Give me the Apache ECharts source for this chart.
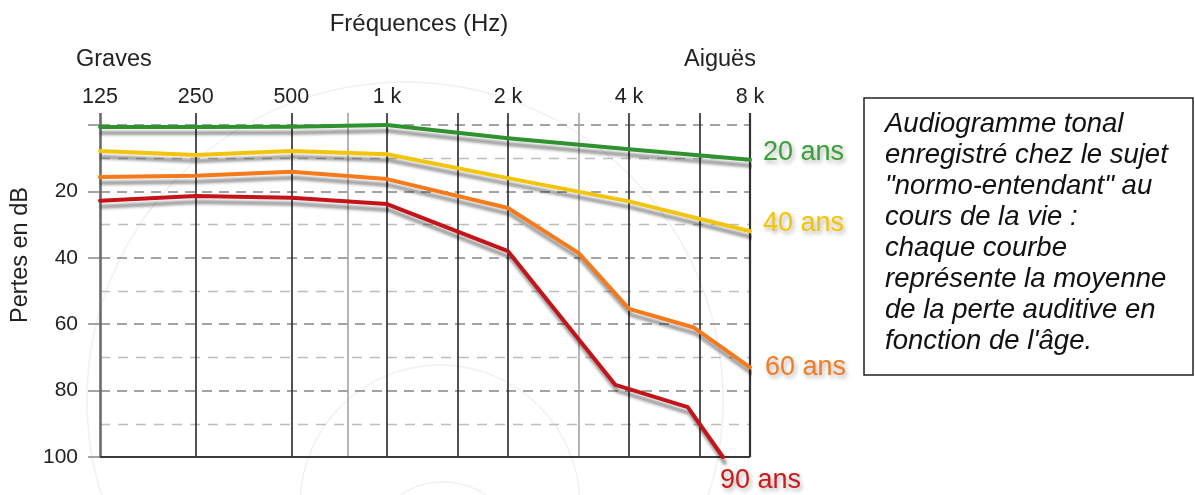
<!DOCTYPE html>
<html>
<head>
<meta charset="utf-8">
<script src="https://cdn.jsdelivr.net/npm/echarts@6/dist/echarts.min.js"></script>
<style>
  html, body { margin: 0; padding: 0; background: #fff; }
  #chart { width: 1195px; height: 495px; }
</style>
</head>
<body>
<div id="chart"></div>
<script>
// ---- data ----
const freqTicks  = [125, 250, 500, 1000, 2000, 4000, 8000];
const freqLabels = ['125', '250', '500', '1 k', '2 k', '4 k', '8 k'];
const gridFreqs  = [125, 250, 500, 750, 1000, 1500, 2000, 3000, 4000, 6000, 8000];
const lightFreqs = [750, 3000];
const dbLabels   = [20, 40, 60, 80, 100];

const ageNames = ['20 ans', '40 ans', '60 ans', '90 ans'];
const freq20 = [125, 250, 500, 1000, 2000, 4000, 8000];
const loss20 = [0.6, 0.6, 0.5, 0, 4, 7.3, 10.5];
const freq40 = [125, 250, 500, 1000, 2000, 4000, 8000];
const loss40 = [7.8, 9, 7.8, 8.8, 16, 23, 32];
const freq60 = [125, 250, 500, 1000, 2000, 3000, 4000, 5800, 8000];
const loss60 = [15.7, 15.3, 14.1, 16.3, 25, 38.6, 55.4, 61, 73];
const freq90 = [125, 250, 500, 1000, 2000, 3700, 5600, 6850];
const loss90 = [22.8, 21.4, 21.9, 23.8, 38, 78.3, 85, 100];

const noteLines = [
  'Audiogramme tonal',
  'enregistré chez le sujet',
  '"normo-entendant" au',
  'cours de la vie :',
  'chaque courbe',
  'représente la moyenne',
  'de la perte auditive en',
  'fonction de l\'âge.'
];

// ---- styles ----
const FONT = '"Liberation Sans", Arial, Helvetica, sans-serif';
const lineColors  = ['#2f922f', '#f2c40c', '#f47a1c', '#c4141a'];
const labelColors = ['#3aa03a', '#f5c400', '#f57a20', '#cc1a1a'];
const labelOffsets = [[5, -7], [5, -8], [7, 0], [-11, 24]];

const toX = f => Math.log2(f / 125);
const splitFreq = 1000;
const tickExt = 3.6; // dB above 0 reached by vertical grid lines

const ages = [
  { f: freq20, v: loss20 },
  { f: freq40, v: loss40 },
  { f: freq60, v: loss60 },
  { f: freq90, v: loss90 }
];

const gridTop = 125, gridH = 332, pxPerDb = gridH / 100;
const gridRects = [
  { left: 100, width: 287 },
  { left: 387, width: 363 }
];
const xRanges = [
  [toX(freqTicks[0]), toX(freqTicks[3])],
  [toX(freqTicks[3]), toX(freqTicks[6])]
];

const series = [];

// helper series (in helper grids 2,3) carrying vertical grid lines and bottom line
[0, 1].forEach(gi => {
  const fs = gridFreqs.filter(f => gi === 0 ? f <= splitFreq : f > splitFreq);
  const vLines = fs.map(f => {
    const light = lightFreqs.includes(f);
    let color = light ? '#a8a8a8' : '#333';
    let width = 1.7;
    if (f === 125) { color = '#6a6a6a'; width = 2.6; }
    if (f === 8000) { width = 2.2; }
    return [
      { coord: [toX(f), -tickExt], lineStyle: { color, width, type: 'solid' } },
      { coord: [toX(f), 100] }
    ];
  });
  vLines.push([
    { coord: [xRanges[gi][0], 100], lineStyle: { color: '#3a3a3a', width: 2.2, type: 'solid' } },
    { coord: [xRanges[gi][1], 100] }
  ]);
  series.push({
    type: 'line',
    xAxisIndex: gi + 2, yAxisIndex: gi + 2,
    data: [],
    showSymbol: false,
    silent: true,
    z: 1,
    markLine: {
      silent: true,
      symbol: ['none', 'none'],
      label: { show: false },
      animation: false,
      data: vLines
    }
  });
});

ages.forEach((a, i) => {
  [0, 1].forEach(gi => {
    const pts = [];
    a.f.forEach((f, k) => {
      if ((gi === 0 && f <= splitFreq) || (gi === 1 && f >= splitFreq)) {
        pts.push([toX(f), a.v[k]]);
      }
    });
    const s = {
      name: ageNames[i],
      type: 'line',
      xAxisIndex: gi, yAxisIndex: gi,
      data: pts,
      showSymbol: false,
      symbol: 'none',
      clip: false,
      z: 5,
      lineStyle: {
        color: lineColors[i], width: 4, cap: 'round', join: 'round',
        shadowColor: 'rgba(0,0,0,0.4)', shadowBlur: 3, shadowOffsetX: 2, shadowOffsetY: 6
      },
      emphasis: { disabled: true }
    };
    if (gi === 1) {
      s.endLabel = {
        show: true,
        formatter: '{a}',
        color: labelColors[i],
        fontFamily: FONT,
        fontSize: 27,
        distance: 8,
        offset: labelOffsets[i],
        textShadowColor: 'rgba(0,0,0,0.3)',
        textShadowBlur: 4,
        textShadowOffsetX: 2,
        textShadowOffsetY: 3
      };
    }
    series.push(s);
  });
});

const yAxisBase = (gi) => ({
  type: 'value',
  gridIndex: gi,
  inverse: true,
  min: 0, max: 100, interval: 20,
  axisLine: { show: false },
  axisTick: gi === 0 ? { show: true, length: 12, lineStyle: { color: '#888', width: 1.5 } } : { show: false },
  axisLabel: gi === 0 ? {
    show: true, margin: 22, fontSize: 21, color: '#222', fontFamily: FONT,
    formatter: v => dbLabels.includes(v) ? String(v) : ''
  } : { show: false },
  splitLine: { show: true, showMaxLine: false, lineStyle: { color: '#858585', width: 1.6, type: [10, 7] } },
  minorTick: { show: false, splitNumber: 2 },
  minorSplitLine: { show: true, lineStyle: { color: '#bdbdbd', width: 1.4, type: [10, 8] } }
});

const hiddenAxis = {
  show: false, axisLine: { show: false }, axisTick: { show: false },
  axisLabel: { show: false }, splitLine: { show: false }
};

const option = {
  animation: false,
  backgroundColor: '#fff',
  grid: [
    { left: gridRects[0].left, top: gridTop, width: gridRects[0].width, height: gridH },
    { left: gridRects[1].left, top: gridTop, width: gridRects[1].width, height: gridH },
    { left: gridRects[0].left, top: gridTop - tickExt * pxPerDb, width: gridRects[0].width, height: gridH + tickExt * pxPerDb },
    { left: gridRects[1].left, top: gridTop - tickExt * pxPerDb, width: gridRects[1].width, height: gridH + tickExt * pxPerDb }
  ],
  xAxis: [0, 1].map(gi => ({
    type: 'value',
    gridIndex: gi,
    position: 'top',
    min: xRanges[gi][0],
    max: xRanges[gi][1],
    interval: 1,
    axisLine: { show: false },
    axisTick: { show: false },
    splitLine: { show: false },
    axisLabel: {
      show: true, margin: 17, fontSize: 21.5, color: '#222', fontFamily: FONT,
      showMinLabel: gi === 0,
      formatter: v => {
        const idx = freqTicks.findIndex(f => Math.abs(toX(f) - v) < 1e-6);
        return idx >= 0 ? freqLabels[idx] : '';
      }
    }
  })).concat([0, 1].map(gi => Object.assign({
    type: 'value', gridIndex: gi + 2, min: xRanges[gi][0], max: xRanges[gi][1]
  }, hiddenAxis))),
  yAxis: [yAxisBase(0), yAxisBase(1)].concat([0, 1].map(gi => Object.assign({
    type: 'value', gridIndex: gi + 2, inverse: true, min: -tickExt, max: 100
  }, hiddenAxis))),
  graphic: [
    { type: 'circle', z: -10, silent: true, shape: { cx: 405, cy: 400, r: 318 }, style: { fill: 'none', stroke: '#f1f1f1', lineWidth: 1.5 } },
    { type: 'circle', z: -10, silent: true, shape: { cx: 440, cy: 505, r: 140 }, style: { fill: 'none', stroke: '#f1f1f1', lineWidth: 1.5 } },
    { type: 'circle', z: -10, silent: true, shape: { cx: 443, cy: 560, r: 78 }, style: { fill: 'none', stroke: '#f1f1f1', lineWidth: 1.5 } },
    { type: 'text', x: 419, y: 24, style: { text: 'Fréquences (Hz)', fontFamily: FONT, fontSize: 24, fill: '#222', align: 'center', verticalAlign: 'middle' } },
    { type: 'text', x: 76, y: 60, style: { text: 'Graves', fontFamily: FONT, fontSize: 23.5, fill: '#222', align: 'left', verticalAlign: 'middle' } },
    { type: 'text', x: 720, y: 60, style: { text: 'Aiguës', fontFamily: FONT, fontSize: 23.5, fill: '#222', align: 'center', verticalAlign: 'middle' } },
    { type: 'text', x: 21, y: 255, rotation: Math.PI / 2, style: { text: 'Pertes en dB', fontFamily: FONT, fontSize: 23.5, fill: '#222', align: 'center', verticalAlign: 'middle' } },
    { type: 'rect', shape: { x: 864, y: 98, width: 329, height: 277 }, style: { fill: '#fff', stroke: '#222', lineWidth: 1.5 } },
    { type: 'text', x: 885, y: 109, style: { text: noteLines.join('\n'), fontFamily: FONT, fontStyle: 'italic', fontSize: 27.5, lineHeight: 31, fill: '#111', align: 'left', verticalAlign: 'top' } }
  ],
  series
};

const chart = echarts.init(document.getElementById('chart'), null, { renderer: 'canvas' });
chart.setOption(option);
</script>
</body>
</html>
